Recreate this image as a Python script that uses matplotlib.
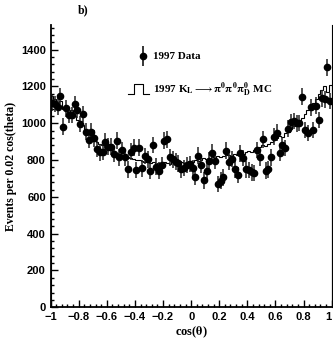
import numpy as np
import matplotlib
matplotlib.use("Agg")
import matplotlib.pyplot as plt
import matplotlib.transforms as mtransforms
from matplotlib.ticker import MultipleLocator

# 100 bins of 0.02 in cos(theta)
bin_edges = np.linspace(-1, 1, 101)

data_counts = [
    1109, 1105, 1090, 1148, 982, 1081, 1045, 1045, 1105, 1072,
    996, 1050, 954, 909, 954, 918, 859, 842, 846, 900,
    873, 873, 833, 905, 815, 855, 815, 750, 846, 868,
    746, 868, 755, 822, 804, 742, 882, 764, 742, 773,
    905, 912, 815, 804, 791, 782, 750, 758, 773, 779,
    758, 710, 824, 773, 690, 742, 797, 840, 797, 671,
    688, 706, 851, 789, 806, 750, 720, 837, 811, 750,
    745, 733, 729, 855, 815, 913, 742, 750, 815, 927,
    949, 840, 882, 866, 971, 1008, 1012, 999, 1002, 1145,
    964, 946, 1087, 964, 1096, 1018, 1136, 1130, 1304, 1120,
]
data_err = 45

mc_counts = [
    1150, 1130, 1100, 1120, 1080, 1090, 1060, 1070, 1040, 1020,
    1000, 990, 960, 950, 930, 920, 900, 890, 880, 870,
    860, 855, 850, 840, 835, 830, 820, 815, 810, 805,
    800, 800, 795, 790, 790, 785, 790, 780, 785, 780,
    790, 785, 780, 790, 785, 780, 790, 785, 790, 795,
    790, 800, 795, 800, 810, 805, 810, 815, 805, 820,
    815, 820, 825, 830, 820, 835, 830, 840, 835, 845,
    850, 845, 855, 860, 870, 880, 875, 890, 900, 910,
    920, 930, 925, 945, 955, 970, 985, 1000, 1010, 1030,
    1050, 1070, 1090, 1110, 1130, 1160, 1180, 1200, 1170, 1210,
]

x_ticks = [-1, -0.8, -0.6, -0.4, -0.2, 0, 0.2, 0.4, 0.6, 0.8, 1]
x_ticklabels = ['\u22121', '\u22120.8', '\u22120.6', '\u22120.4', '\u22120.2',
                '0', '0.2', '0.4', '0.6', '0.8', '1']

plt.rcParams['mathtext.fontset'] = 'stix'
serif = ['Liberation Serif', 'DejaVu Serif']
sans = ['Liberation Sans', 'DejaVu Sans']

fig = plt.figure(figsize=(3.33, 3.47), dpi=100)
ax = fig.add_axes([0.152, 0.1144, 0.844, 0.8136])

centers = (bin_edges[:-1] + bin_edges[1:]) / 2

# MC histogram
ax.stairs(mc_counts, bin_edges, color='black', lw=0.8)

# data points
ax.errorbar(centers, data_counts, yerr=data_err, fmt='o', color='black',
            ms=4.5, elinewidth=1.1, capsize=0, ecolor='#222222')

ax.set_xlim(-1, 1)
ax.set_ylim(0, 1534)

ax.set_xticks(x_ticks, x_ticklabels)
ax.xaxis.set_minor_locator(MultipleLocator(0.04))
ax.yaxis.set_major_locator(MultipleLocator(200))
ax.yaxis.set_minor_locator(MultipleLocator(40))
ax.tick_params(which='both', direction='in', top=False, right=False,
               width=1.0, labelsize=8)
ax.tick_params(which='major', length=5)
ax.tick_params(which='minor', length=2.5)

for lab in ax.get_xticklabels() + ax.get_yticklabels():
    lab.set_family(sans)
    lab.set_weight('bold')

# keep the "1" at the right edge inside the figure
last = ax.get_xticklabels()[-1]
last.set_transform(last.get_transform() +
                   mtransforms.ScaledTranslation(-2.5 / 72, 0, fig.dpi_scale_trans))

ax.spines['top'].set_visible(False)
for s in ['left', 'bottom']:
    ax.spines[s].set_linewidth(1.3)
ax.spines['right'].set_linewidth(0.8)

ax.set_ylabel('Events per 0.02 cos(theta)', family=serif, weight='bold',
              fontsize=8.5, labelpad=3)
ax.set_xlabel(r'cos($\mathbf{\theta}$)', family=serif, weight='bold',
              fontsize=9, labelpad=2)

fig.text(0.25, 0.97, 'b)', family=serif, weight='bold', fontsize=8.5,
         va='center', ha='center')

# hand-drawn legend
ax.errorbar([0.33], [0.89], yerr=[0.037], fmt='o', color='black', ms=4.5,
            elinewidth=1.1, transform=ax.transAxes)
ax.text(0.365, 0.89, '1997 Data', transform=ax.transAxes, family=serif,
        weight='bold', fontsize=8, va='center')
ax.plot([0.275, 0.295, 0.295, 0.33, 0.33, 0.35],
        [0.755, 0.755, 0.79, 0.79, 0.755, 0.755],
        color='black', lw=0.8, transform=ax.transAxes)
ax.text(0.365, 0.77,
        r'1997 K$_{\mathbf{L}}$$\longrightarrow$'
        r'$\mathbf{\pi^0\pi^0\pi^0_D}$ MC',
        transform=ax.transAxes, family=serif, weight='bold', fontsize=8,
        va='center')

fig.savefig('out.png', dpi=100)
